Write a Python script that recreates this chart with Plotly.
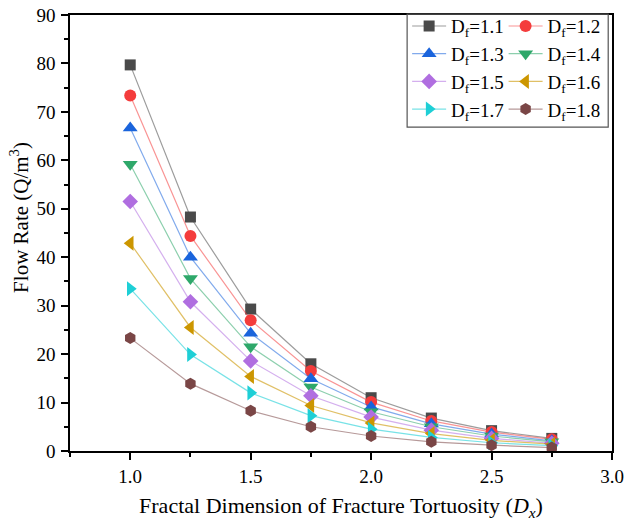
import plotly.graph_objects as go

# Fractal dimension of fracture tortuosity (x axis)
dx = [1.0, 1.25, 1.5, 1.75, 2.0, 2.25, 2.5, 2.75]

# Flow rate for each fractal dimension Df
q_11 = [79.7, 48.3, 29.3, 18.0, 11.0, 6.8, 4.2, 2.6]
q_12 = [73.4, 44.4, 27.0, 16.5, 10.1, 6.2, 3.9, 2.4]
q_13 = [66.7, 40.0, 24.3, 14.9, 9.1, 5.6, 3.5, 2.1]
q_14 = [59.2, 35.6, 21.5, 13.2, 8.1, 5.0, 3.1, 1.9]
q_15 = [51.5, 30.8, 18.6, 11.4, 7.0, 4.3, 2.6, 1.6]
q_16 = [42.9, 25.5, 15.4, 9.4, 5.8, 3.6, 2.2, 1.4]
q_17 = [33.5, 19.9, 12.0, 7.3, 4.5, 2.8, 1.7, 1.1]
q_18 = [23.3, 13.9, 8.3, 5.0, 3.1, 1.9, 1.2, 0.7]

series_labels = ["1.1", "1.2", "1.3", "1.4", "1.5", "1.6", "1.7", "1.8"]
series_values = [q_11, q_12, q_13, q_14, q_15, q_16, q_17, q_18]

marker_colors = ["#4a4a4a", "#f43c3c", "#1a64dc", "#2ea86a",
                 "#b06ee0", "#cc9600", "#1ecfd6", "#7a4646"]
line_colors = ["rgba(74,74,74,0.55)", "rgba(244,60,60,0.55)", "rgba(26,100,220,0.55)",
               "rgba(46,168,106,0.55)", "rgba(176,110,224,0.55)", "rgba(204,150,0,0.6)",
               "rgba(30,207,214,0.6)", "rgba(122,70,70,0.55)"]
symbols = ["square", "circle", "triangle-up", "triangle-down",
           "diamond", "triangle-left", "triangle-right", "hexagon"]
sizes = [11, 12, 13, 13, 12, 13, 13, 12]

serif = "Liberation Serif, Times New Roman, serif"

fig = go.Figure()
for i, (lab, vals) in enumerate(zip(series_labels, series_values)):
    fig.add_trace(go.Scatter(
        x=dx, y=vals, mode="lines+markers",
        name=f"D<sub>f</sub>={lab}",
        line=dict(color=line_colors[i], width=1.2),
        marker=dict(symbol=symbols[i], size=sizes[i], color=marker_colors[i],
                    line=dict(width=0)),
        legend="legend" if i % 2 == 0 else "legend2",
    ))

axis_common = dict(
    showgrid=False, zeroline=False, automargin=False,
    showline=True, linecolor="black", linewidth=1.5, mirror=True,
    ticks="outside", ticklen=7, tickwidth=1.5, tickcolor="black",
    tickfont=dict(family=serif, size=19, color="black"),
)

fig.update_xaxes(
    range=[0.75, 3.0], dtick=0.5, tick0=0, tickformat=".1f",
    minor=dict(ticks="outside", dtick=0.25, tick0=0, ticklen=4, tickwidth=1.5, tickcolor="black"),
    title=dict(text="Fractal Dimension of Fracture Tortuosity (<i>D<sub>x</sub></i>)",
               font=dict(family=serif, size=22, color="black"), standoff=12),
    **axis_common,
)
fig.update_yaxes(
    range=[0, 90], dtick=10, ticklabelstandoff=2,
    minor=dict(ticks="outside", dtick=5, ticklen=4, tickwidth=1.5, tickcolor="black"),
    **axis_common,
)

legend_font = dict(family=serif, size=19, color="black")
fig.update_layout(
    width=624, height=526,
    margin=dict(l=70, r=12, t=15, b=75, autoexpand=False),
    paper_bgcolor="white", plot_bgcolor="white",
    legend=dict(x=0.622, y=1.018, xanchor="left", yanchor="top",
                bgcolor="rgba(0,0,0,0)", font=legend_font,
                itemwidth=34, tracegroupgap=0),
    legend2=dict(x=0.8, y=1.018, xanchor="left", yanchor="top",
                 bgcolor="rgba(0,0,0,0)", font=legend_font,
                 itemwidth=34, tracegroupgap=0),
    shapes=[dict(type="rect", xref="paper", yref="paper",
                 x0=0.622, x1=0.993, y0=0.743, y1=1.002,
                 line=dict(color="#555", width=1.2), fillcolor="rgba(0,0,0,0)")],
    annotations=[dict(text="Flow Rate (Q/m<sup>3</sup>)", textangle=-90,
                      xref="paper", yref="paper", x=-0.092, y=0.535,
                      xanchor="center", yanchor="middle", showarrow=False,
                      font=dict(family=serif, size=21, color="black"))],
)

fig.write_html("out.html")
